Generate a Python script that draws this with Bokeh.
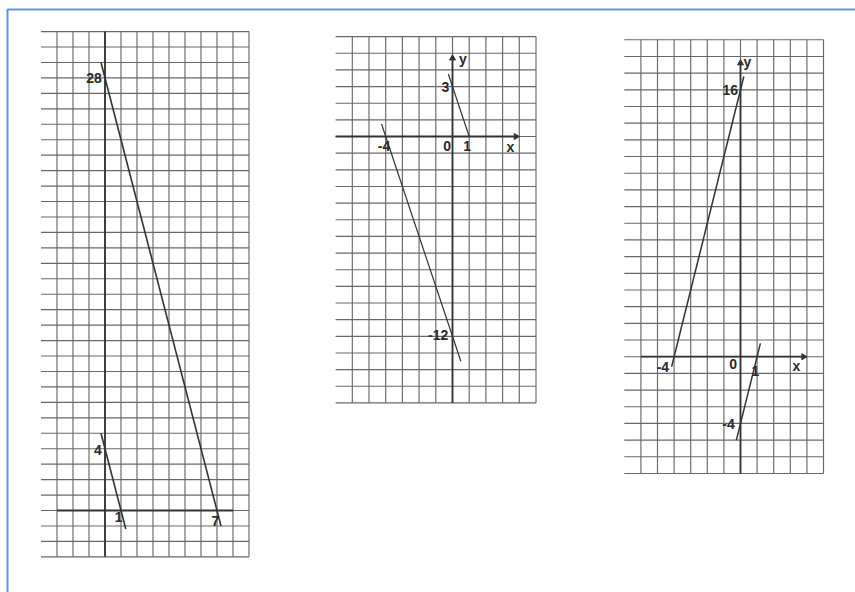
import numpy as np
from bokeh.plotting import figure
from bokeh.models import Range1d, ColumnDataSource
from bokeh.core.properties import value
from bokeh.embed import file_html
from bokeh.resources import INLINE

# ---------------------------------------------------------------- data
# Panel 1: y = -4x + 28 and y = -4x + 4
p1_cols = list(range(-3, 10))          # vertical grid lines (x)
p1_rows = list(range(-3, 32))          # horizontal grid lines (y)
p1_row_start = -4                      # horizontal lines start one cell further left
p1_lines_x = [[-0.25, 7.25], [-0.25, 1.3]]
p1_lines_y = [[29.0, -1.0], [5.0, -1.2]]
p1_axes = dict(x_from=-3, x_to=8, y_from=-3, y_to=31)
p1_labels = [("28", -0.2, 28.0, "right"), ("4", -0.2, 3.9, "right"),
             ("1", 0.85, -0.45, "center"), ("7", 6.9, -0.65, "center")]

# Panel 2: y = -3x + 3 and y = -3x - 12
p2_cols = list(range(-6, 6))
p2_rows = list(range(-16, 7))
p2_row_start = -7
p2_lines_x = [[-0.25, 1.0], [-4.25, 0.5]]
p2_lines_y = [[3.75, 0.0], [0.75, -13.5]]
p2_axes = dict(x_from=-7, x_to=3.8, y_from=-16, y_to=4.7)
p2_labels = [("3", -0.42, 2.95, "center"), ("-4", -4.1, -0.6, "center"),
             ("0", -0.32, -0.55, "center"), ("1", 0.88, -0.6, "center"),
             ("x", 3.47, -0.65, "center"), ("y", 0.62, 4.68, "center"),
             ("-12", -0.25, -11.95, "right")]

# Panel 3: y = 4x + 16 and y = 4x - 4
p3_cols = list(range(-6, 6))
p3_rows = list(range(-7, 20))
p3_row_start = -7
p3_lines_x = [[-4.15, 0.2], [-0.25, 1.2]]
p3_lines_y = [[-0.6, 16.8], [-5.0, 0.8]]
p3_axes = dict(x_from=-6, x_to=3.8, y_from=-7, y_to=17.6)
p3_labels = [("16", -0.15, 16.0, "right"), ("-4", -4.3, -0.6, "right"),
             ("0", -0.44, -0.45, "center"), ("1", 0.9, -0.85, "center"),
             ("x", 3.36, -0.55, "center"), ("y", 0.42, 17.66, "center"),
             ("-4", -0.35, -4.02, "right")]

# ---------------------------------------------------------------- page
W, H = 855, 592
p = figure(width=W, height=H, x_range=Range1d(0, W), y_range=Range1d(H, 0),
           output_backend="svg", toolbar_location=None, min_border=0,
           x_axis_location=None, y_axis_location=None)
p.grid.visible = False
p.outline_line_color = None
p.background_fill_color = "white"
p.border_fill_color = "white"

# blue frame around the figure area
p.line(x=[7, 7, W + 5], y=[H + 5, 9, 9], line_color="#6393d6", line_width=2)

# placement of each sheet on the page: origin pixel and cell size
placement = {
    "p1": dict(ox=104.5, sx=16.0, oy=510.0, sy=15.45),
    "p2": dict(ox=452.0, sx=16.7, oy=136.0, sy=16.65),
    "p3": dict(ox=740.0, sx=16.6, oy=356.2, sy=16.68),
}
for name, pl in placement.items():
    p.extra_x_ranges[name + "x"] = Range1d(-pl["ox"] / pl["sx"], (W - pl["ox"]) / pl["sx"])
    p.extra_y_ranges[name + "y"] = Range1d((pl["oy"] - H) / pl["sy"], pl["oy"] / pl["sy"])

GRID = "#686868"
INK = "#333333"
FONT = value("Liberation Sans")

panels = [
    ("p1", p1_cols, p1_rows, p1_row_start, p1_lines_x, p1_lines_y, p1_axes, p1_labels, False, 1.6),
    ("p2", p2_cols, p2_rows, p2_row_start, p2_lines_x, p2_lines_y, p2_axes, p2_labels, True, 1.2),
    ("p3", p3_cols, p3_rows, p3_row_start, p3_lines_x, p3_lines_y, p3_axes, p3_labels, True, 1.5),
]

for name, cols, rows, row_start, lxs, lys, ax, labels, arrows, lw in panels:
    kw = dict(x_range_name=name + "x", y_range_name=name + "y")
    # graph-paper grid
    p.segment(x0=cols, x1=cols, y0=[rows[0]] * len(cols), y1=[rows[-1]] * len(cols),
              line_color=GRID, line_width=1.15, **kw)
    p.segment(x0=[row_start] * len(rows), x1=[cols[-1]] * len(rows), y0=rows, y1=rows,
              line_color=GRID, line_width=1.15, **kw)
    # hand-drawn axes
    p.segment(x0=[ax["x_from"], 0], x1=[ax["x_to"], 0], y0=[0, ax["y_from"]], y1=[0, ax["y_to"]],
              line_color=INK, line_width=1.8, **kw)
    if arrows:
        p.scatter(x=[ax["x_to"], 0], y=[0, ax["y_to"]], marker="triangle", size=6,
                  angle=[-np.pi / 2, 0], fill_color=INK, line_color=INK, **kw)
    # the two lines of each sheet
    p.multi_line(xs=lxs, ys=lys, line_color=INK, line_width=lw, **kw)
    # handwritten values
    src = ColumnDataSource(dict(t=[l[0] for l in labels], x=[l[1] for l in labels],
                                y=[l[2] for l in labels], a=[l[3] for l in labels]))
    p.text(x="x", y="y", text="t", text_align="a", text_baseline="middle", source=src,
           text_font=FONT, text_font_size="14px", text_font_style="bold",
           text_color="#2a2a2a", **kw)

open("out.html", "w").write(file_html(p, INLINE))
